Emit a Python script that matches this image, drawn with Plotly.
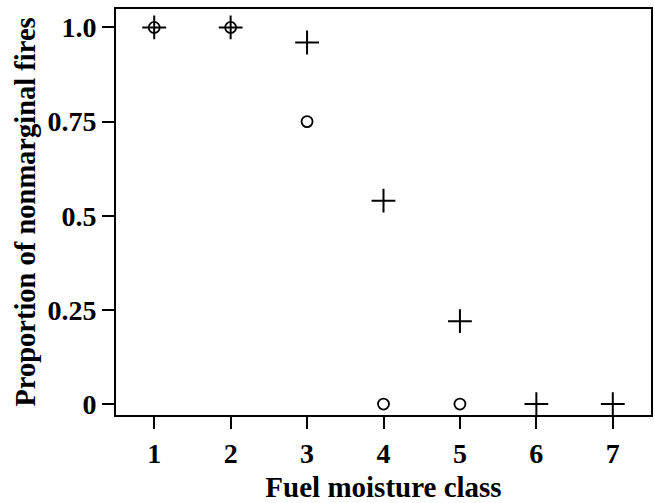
import plotly.graph_objects as go

moisture_class = [1, 2, 3, 4, 5, 6, 7]
circle_class = [1, 2, 3, 4, 5]
circle_values = [1.0, 1.0, 0.75, 0.0, 0.0]
plus_class = [1, 2, 3, 4, 5, 6, 7]
plus_values = [1.0, 1.0, 0.96, 0.54, 0.22, 0.0, 0.0]
y_tickvals = [0, 0.25, 0.5, 0.75, 1.0]
y_ticktext = ["0", "0.25", "0.5", "0.75", "1.0"]

font = "Liberation Serif"

fig = go.Figure()
fig.add_trace(go.Scatter(
    x=circle_class, y=circle_values, mode="markers",
    marker=dict(symbol="circle-open", size=11, color="black", line=dict(width=1.8)),
    showlegend=False))
fig.add_trace(go.Scatter(
    x=plus_class, y=plus_values, mode="markers",
    marker=dict(symbol="cross-thin-open", size=17, color="black", line=dict(width=2)),
    showlegend=False))

fig.update_layout(
    width=655, height=503,
    margin=dict(l=116, r=2, t=9, b=80),
    paper_bgcolor="white", plot_bgcolor="white",
    font=dict(family=font, color="black", size=28),
    xaxis=dict(
        range=[0.5, 7.5], tickvals=moisture_class, ticktext=[str(v) for v in moisture_class],
        showline=True, linecolor="black", linewidth=2, mirror=True,
        ticks="outside", ticklen=12, tickwidth=2, tickcolor="black",
        showgrid=False, zeroline=False,
        tickfont=dict(family=font, size=28, weight="bold"),
        title=dict(text="<b>Fuel moisture class</b>", font=dict(family=font, size=29), standoff=12),
    ),
    yaxis=dict(
        range=[-0.029, 1.049], tickvals=y_tickvals, ticktext=y_ticktext,
        showline=True, linecolor="black", linewidth=2, mirror=True,
        ticks="outside", ticklen=12, tickwidth=2, tickcolor="black",
        showgrid=False, zeroline=False,
        tickfont=dict(family=font, size=28, weight="bold"),
        title=dict(text="<b>Proportion of nonmarginal fires</b>", font=dict(family=font, size=28.5), standoff=3),
    ),
)

fig.write_html("out.html", config={"displayModeBar": False},
               post_script="document.body.style.margin='0';document.body.style.overflow='hidden';")
